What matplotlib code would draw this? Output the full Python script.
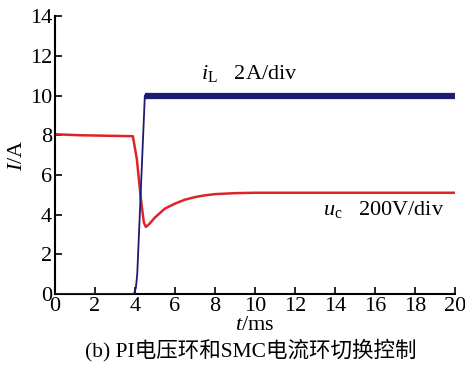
import matplotlib
matplotlib.use("Agg")
import matplotlib.pyplot as plt

plt.rcParams['font.family'] = ['Liberation Serif', 'Noto Sans CJK SC']
plt.rcParams['mathtext.fontset'] = 'custom'
plt.rcParams['mathtext.rm'] = 'Liberation Serif'
plt.rcParams['mathtext.it'] = 'Liberation Serif:italic'

# inductor current i_L (A)
t_il = [0, 3.95, 4.05, 4.12, 4.5]
il = [0, 0, 0.3, 1.0, 10.0]
t_il_flat = [4.5, 20]
il_flat = [10.0, 10.0]

# capacitor voltage u_c (scaled, 200V/div)
t_uc = [0, 1.2, 3.9, 4.1, 4.3, 4.45, 4.55, 4.7, 5.0, 5.5, 6.0, 6.5, 7.0, 7.5, 8.0, 9.0, 10.0, 20.0]
uc = [8.05, 8.0, 7.95, 6.8, 4.8, 3.6, 3.38, 3.5, 3.85, 4.3, 4.55, 4.75, 4.88, 4.97, 5.03, 5.08, 5.1, 5.1]

xticks = list(range(0, 21, 2))
yticks = list(range(0, 15, 2))

fig = plt.figure(figsize=(4.65, 3.67), dpi=100)
ax = fig.add_axes([0.118, 0.199, 0.860, 0.757])

ax.plot(t_uc, uc, color='#e02328', lw=1.8, zorder=2)
ax.plot(t_il, il, color='#1c1c72', lw=1.3, zorder=3)
ax.plot(t_il_flat, il_flat, color='#1c1c72', lw=4.5, solid_capstyle='butt', zorder=3)

ax.set_xlim(0, 20)
ax.set_ylim(0, 14)
ax.set_xticks(xticks)
ax.set_yticks(yticks)
ax.spines['top'].set_visible(False)
ax.spines['right'].set_visible(False)
ax.spines['left'].set_linewidth(1.5)
ax.spines['bottom'].set_linewidth(1.5)
ax.tick_params(direction='in', length=5, width=1.2, labelsize=16, pad=2)

ax.set_xlabel('$t$/ms', fontsize=16, labelpad=0)
ax.set_ylabel('$I$/A', fontsize=16, labelpad=2)

ax.text(7.3, 10.85, r'$i_{\mathrm{L}}$   2A/div', fontsize=16)
ax.text(13.4, 4.0, r'$u_{\mathrm{c}}$   200V/div', fontsize=16)

fig.text(0.54, 0.03, '(b) PI电压环和SMC电流环切换控制', ha='center', fontsize=15.5)

fig.savefig('out.png', dpi=100)
